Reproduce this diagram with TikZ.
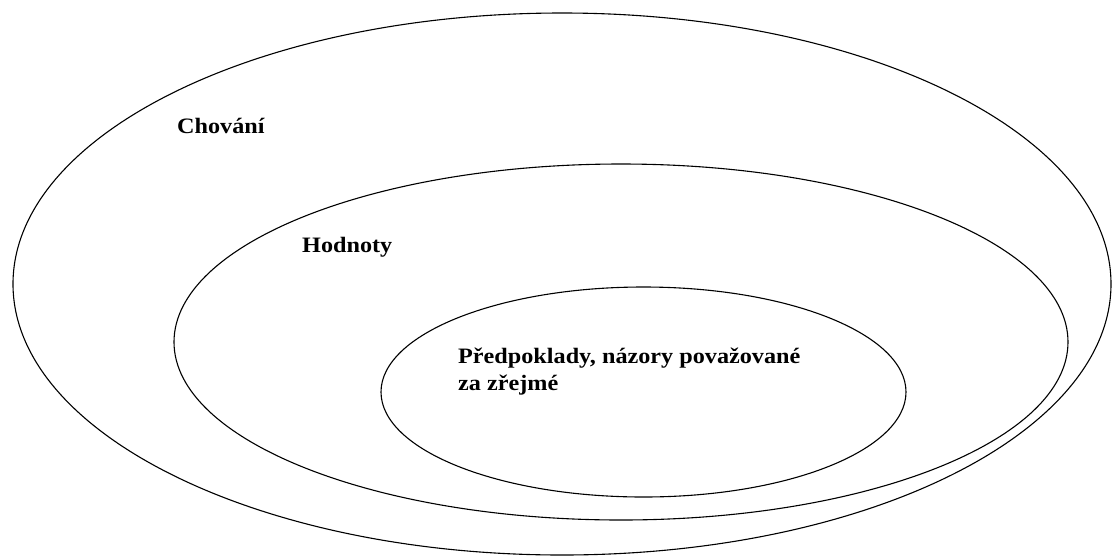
\documentclass[tikz,border=0pt]{standalone}
\usepackage{fontspec}
\setmainfont{Liberation Serif}
\usetikzlibrary{shapes.geometric}
\tikzset{
  ring/.style={draw=black, line width=1.1pt},
  lbl/.style={anchor=base west, inner sep=0pt, font=\bfseries\fontsize{22}{27}\selectfont}
}
\begin{document}
\begin{tikzpicture}[x=1pt,y=-1pt]
\useasboundingbox[fill=white] (0,0) rectangle (1112,558);
\draw[ring] (562,284) ellipse [x radius=549, y radius=271];
\draw[ring] (621,342) ellipse [x radius=447, y radius=178];
\draw[ring] (643.5,392) ellipse [x radius=262.5, y radius=105];
\node[lbl] (chovani) at (177,133) {\scalebox{1.1}[1]{Chování}};
\node[lbl] (hodnoty) at (302,252) {\scalebox{1.1}[1]{Hodnoty}};
\node[lbl] (predpoklady) at (458,363) {\scalebox{1.1}[1]{\begin{tabular}[t]{@{}l@{}}Předpoklady, názory považované\\za zřejmé\end{tabular}}};
\end{tikzpicture}
\end{document}
